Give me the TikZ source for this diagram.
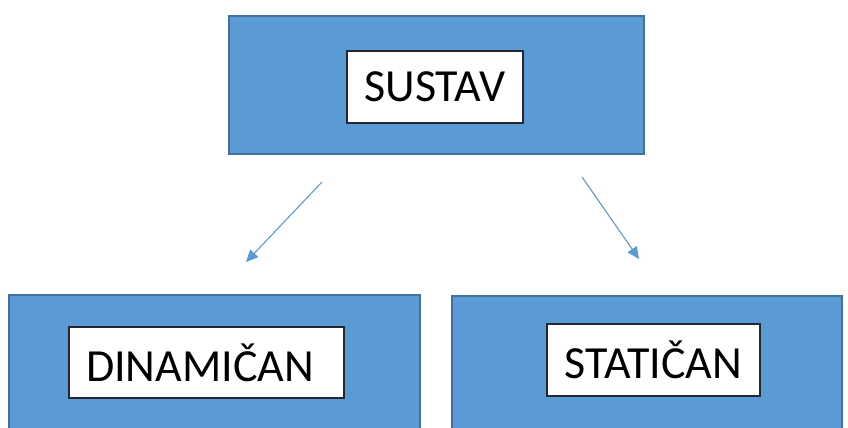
\documentclass[tikz,border=0pt]{standalone}
\usepackage{fontspec}
\setmainfont{Carlito}
\usepackage{xcolor}
\definecolor{ColFill}{RGB}{91,155,213}
\definecolor{ColLine}{RGB}{65,113,156}
\definecolor{ColText}{RGB}{38,38,48}
\usetikzlibrary{arrows.meta}
\tikzstyle{Block}=[rectangle,draw=ColLine,fill=ColFill,line width=1.2pt,
inner sep=0pt]
\tikzstyle{Label}=[rectangle,draw=ColText,fill=white,line width=1.2pt,
inner sep=0pt,font=\fontsize{46}{50}\selectfont,text=black]
\tikzstyle{Link}=[draw=ColFill,line width=1.1pt,
-{Triangle[length=12pt,width=11pt]}]

\begin{document}
\begin{tikzpicture}[x=1pt,y=-1pt]
        \clip(0,0)rectangle(848,428);
        \node[Block,minimum width=415pt,minimum height=138pt](sustavbox)
            at(436.5,85){};
        \node[Block,minimum width=411pt,minimum height=150pt](dinbox)
            at(214.5,370){};
        \node[Block,minimum width=390pt,minimum height=150pt](statbox)
            at(647,371){};
        \node[Label,minimum width=176pt,minimum height=72pt](sustav)
            at(435,87){SUSTAV};
        \node[Label,text width=241pt,inner xsep=17pt,align=left,
            minimum height=71pt](dinamican)at(206.5,362.5){DINAMIČAN};
        \node[Label,minimum width=213pt,minimum height=72pt](statican)
            at(653.5,360){STATIČAN};
        \coordinate(l1)at(322,182);
        \coordinate(l2)at(246,262);
        \coordinate(r1)at(582,177);
        \coordinate(r2)at(639,259);
        \draw[Link](l1)--(l2);
        \draw[Link](r1)--(r2);
    \end{tikzpicture}
\end{document}
